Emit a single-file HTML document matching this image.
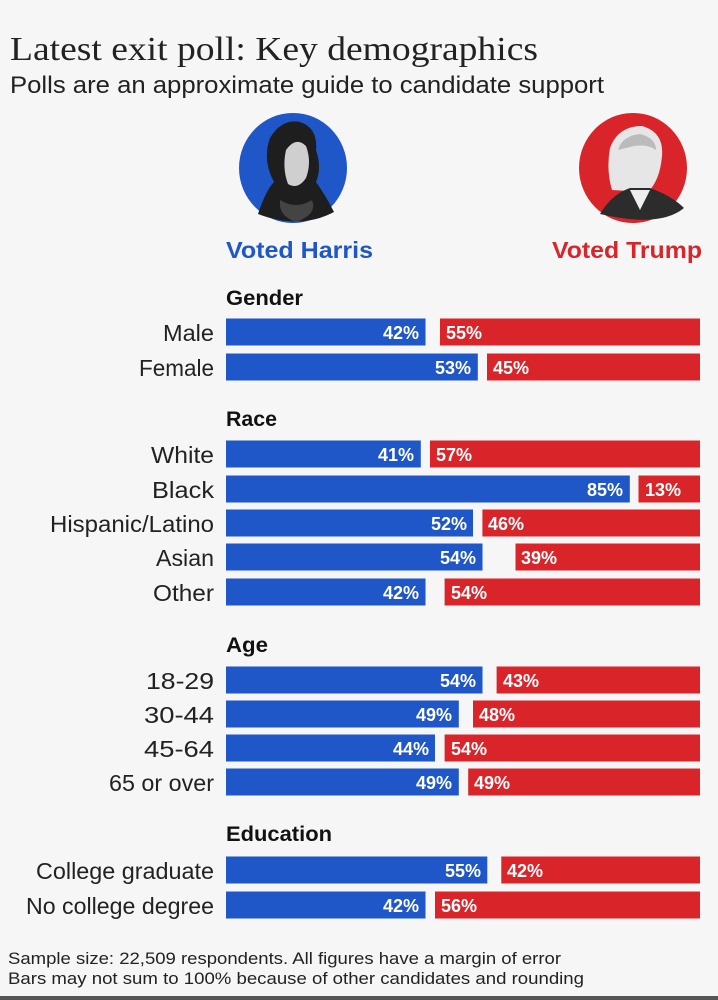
<!DOCTYPE html>
<html><head><meta charset="utf-8"><style>
html,body{margin:0;padding:0;background:#f6f6f6}
svg{display:block}
.lab{font-family:"Liberation Sans",sans-serif;font-size:23px;fill:#222;text-anchor:end}
.pct{font-family:"Liberation Sans",sans-serif;font-size:18px;font-weight:bold;fill:#fff}
.hd{font-family:"Liberation Sans",sans-serif;font-size:21px;font-weight:bold;fill:#111}
</style></head><body>
<svg width="718" height="1000" viewBox="0 0 718 1000" xmlns="http://www.w3.org/2000/svg">
<rect width="718" height="1000" fill="#f6f6f6"/>
<text x="10" y="60" font-family="Liberation Serif,serif" font-size="34" fill="#222" textLength="528" lengthAdjust="spacingAndGlyphs">Latest exit poll: Key demographics</text>
<text x="10" y="93" font-family="Liberation Sans,sans-serif" font-size="24" fill="#222" textLength="594" lengthAdjust="spacingAndGlyphs">Polls are an approximate guide to candidate support</text>
<!-- portraits -->
<ellipse cx="293" cy="168" rx="54" ry="55" fill="#1f56c8"/>
<path d="M258 214 Q266 190 274 182 Q262 160 270 138 Q282 118 300 122 Q318 128 316 150 Q322 168 316 182 Q326 196 334 212 Q300 230 258 214Z" fill="#1e1e1e"/>
<path d="M286 150 Q296 136 306 146 Q312 162 306 178 Q298 190 288 184 Q282 168 286 150Z" fill="#cfcfcf"/>
<path d="M280 200 Q296 210 312 200 Q318 214 296 222 Q278 216 280 200Z" fill="#444"/>
<ellipse cx="633" cy="168" rx="54" ry="55" fill="#d9252a"/>
<path d="M612 190 Q606 170 610 148 Q618 126 642 126 Q664 132 662 156 Q660 180 648 192Z" fill="#e6e6e6"/>
<path d="M618 150 Q622 136 640 134 Q656 138 656 150 Q648 144 634 146Z" fill="#bbb"/>
<path d="M600 214 Q612 194 630 188 L650 188 Q672 196 684 208 Q660 228 600 214Z" fill="#2c2c2c"/>
<path d="M630 190 L640 210 L650 190Z" fill="#eee"/>
<text x="226" y="258" font-family="Liberation Sans,sans-serif" font-size="23" font-weight="bold" fill="#1f56c8" textLength="147" lengthAdjust="spacingAndGlyphs">Voted Harris</text>
<text x="702" y="258" font-family="Liberation Sans,sans-serif" font-size="23" font-weight="bold" fill="#d9252a" text-anchor="end" textLength="150" lengthAdjust="spacingAndGlyphs">Voted Trump</text>
<!-- headings -->
<text class="hd" x="226" y="305" textLength="77" lengthAdjust="spacingAndGlyphs">Gender</text>
<text class="hd" x="226" y="426" textLength="51" lengthAdjust="spacingAndGlyphs">Race</text>
<text class="hd" x="226" y="652" textLength="42" lengthAdjust="spacingAndGlyphs">Age</text>
<text class="hd" x="226" y="841" textLength="106" lengthAdjust="spacingAndGlyphs">Education</text>
<g>
<text class="lab" x="214" y="341" textLength="51" lengthAdjust="spacingAndGlyphs">Male</text>
<rect x="226" y="318.5" width="199.5" height="27" fill="#1f56c8"/><text class="pct" x="419" y="339" text-anchor="end">42%</text>
<rect x="440" y="318.5" width="260" height="27" fill="#d9252a"/><text class="pct" x="446" y="339">55%</text>
<text class="lab" x="214" y="376" textLength="75" lengthAdjust="spacingAndGlyphs">Female</text>
<rect x="226" y="353.5" width="251.8" height="27" fill="#1f56c8"/><text class="pct" x="471" y="374" text-anchor="end">53%</text>
<rect x="487" y="353.5" width="213" height="27" fill="#d9252a"/><text class="pct" x="493" y="374">45%</text>
<text class="lab" x="214" y="463" textLength="63" lengthAdjust="spacingAndGlyphs">White</text>
<rect x="226" y="440.5" width="194.8" height="27" fill="#1f56c8"/><text class="pct" x="414" y="461" text-anchor="end">41%</text>
<rect x="430" y="440.5" width="270" height="27" fill="#d9252a"/><text class="pct" x="436" y="461">57%</text>
<text class="lab" x="214" y="498" textLength="62" lengthAdjust="spacingAndGlyphs">Black</text>
<rect x="226" y="475.5" width="403.8" height="27" fill="#1f56c8"/><text class="pct" x="623" y="496" text-anchor="end">85%</text>
<rect x="638.5" y="475.5" width="61.5" height="27" fill="#d9252a"/><text class="pct" x="645" y="496">13%</text>
<text class="lab" x="214" y="532" textLength="164" lengthAdjust="spacingAndGlyphs">Hispanic/Latino</text>
<rect x="226" y="509.5" width="247" height="27" fill="#1f56c8"/><text class="pct" x="467" y="530" text-anchor="end">52%</text>
<rect x="482.4" y="509.5" width="217.6" height="27" fill="#d9252a"/><text class="pct" x="488" y="530">46%</text>
<text class="lab" x="214" y="566" textLength="58" lengthAdjust="spacingAndGlyphs">Asian</text>
<rect x="226" y="543.5" width="256.5" height="27" fill="#1f56c8"/><text class="pct" x="476" y="564" text-anchor="end">54%</text>
<rect x="515.5" y="543.5" width="184.5" height="27" fill="#d9252a"/><text class="pct" x="521" y="564">39%</text>
<text class="lab" x="214" y="601" textLength="61" lengthAdjust="spacingAndGlyphs">Other</text>
<rect x="226" y="578.5" width="199.5" height="27" fill="#1f56c8"/><text class="pct" x="419" y="599" text-anchor="end">42%</text>
<rect x="444.6" y="578.5" width="255.4" height="27" fill="#d9252a"/><text class="pct" x="451" y="599">54%</text>
<text class="lab" x="214" y="689" textLength="68" lengthAdjust="spacingAndGlyphs">18-29</text>
<rect x="226" y="666.5" width="256.5" height="27" fill="#1f56c8"/><text class="pct" x="476" y="687" text-anchor="end">54%</text>
<rect x="496.6" y="666.5" width="203.4" height="27" fill="#d9252a"/><text class="pct" x="503" y="687">43%</text>
<text class="lab" x="214" y="723" textLength="70" lengthAdjust="spacingAndGlyphs">30-44</text>
<rect x="226" y="700.5" width="232.8" height="27" fill="#1f56c8"/><text class="pct" x="452" y="721" text-anchor="end">49%</text>
<rect x="473" y="700.5" width="227" height="27" fill="#d9252a"/><text class="pct" x="479" y="721">48%</text>
<text class="lab" x="214" y="757" textLength="70" lengthAdjust="spacingAndGlyphs">45-64</text>
<rect x="226" y="734.5" width="209" height="27" fill="#1f56c8"/><text class="pct" x="429" y="755" text-anchor="end">44%</text>
<rect x="444.6" y="734.5" width="255.4" height="27" fill="#d9252a"/><text class="pct" x="451" y="755">54%</text>
<text class="lab" x="214" y="791" textLength="105" lengthAdjust="spacingAndGlyphs">65 or over</text>
<rect x="226" y="768.5" width="232.8" height="27" fill="#1f56c8"/><text class="pct" x="452" y="789" text-anchor="end">49%</text>
<rect x="468.2" y="768.5" width="231.8" height="27" fill="#d9252a"/><text class="pct" x="474" y="789">49%</text>
<text class="lab" x="214" y="879" textLength="178" lengthAdjust="spacingAndGlyphs">College graduate</text>
<rect x="226" y="856.5" width="261.3" height="27" fill="#1f56c8"/><text class="pct" x="481" y="877" text-anchor="end">55%</text>
<rect x="501.3" y="856.5" width="198.7" height="27" fill="#d9252a"/><text class="pct" x="507" y="877">42%</text>
<text class="lab" x="214" y="914" textLength="188" lengthAdjust="spacingAndGlyphs">No college degree</text>
<rect x="226" y="891.5" width="199.5" height="27" fill="#1f56c8"/><text class="pct" x="419" y="912" text-anchor="end">42%</text>
<rect x="435" y="891.5" width="265" height="27" fill="#d9252a"/><text class="pct" x="441" y="912">56%</text>
</g>
<text x="8" y="964" font-family="Liberation Sans,sans-serif" font-size="17" fill="#222" textLength="553" lengthAdjust="spacingAndGlyphs">Sample size: 22,509 respondents. All figures have a margin of error</text>
<text x="8" y="984" font-family="Liberation Sans,sans-serif" font-size="17" fill="#222" textLength="576" lengthAdjust="spacingAndGlyphs">Bars may not sum to 100% because of other candidates and rounding</text>
<rect x="0" y="996" width="718" height="4" fill="#555"/>
</svg>
</body></html>
